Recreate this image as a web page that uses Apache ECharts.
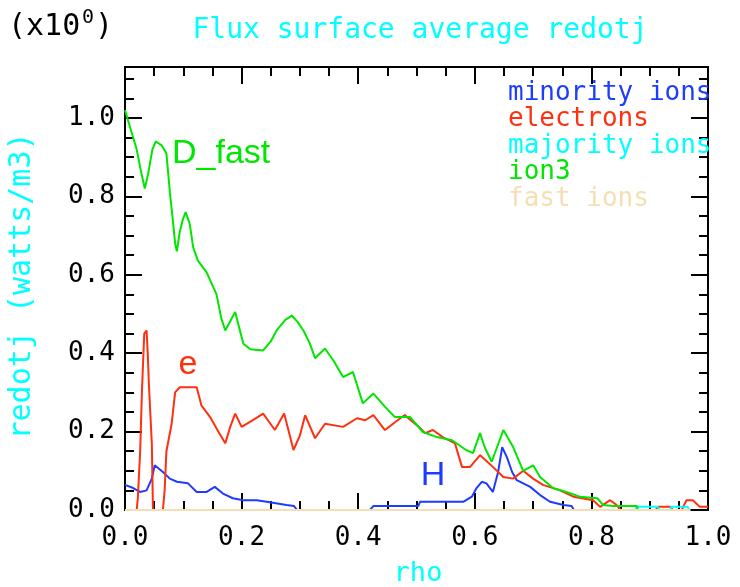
<!DOCTYPE html>
<html>
<head>
<meta charset="utf-8">
<script src="https://cdn.jsdelivr.net/npm/echarts@6/dist/echarts.min.js"></script>
<style>
  html, body { margin: 0; padding: 0; background: #fff; }
  #main { width: 740px; height: 587px; }
</style>
</head>
<body>
<div id="main"></div>
<script>
// rho / value pairs
var minorityIons = [[0,0.064],[0.014,0.056],[0.026,0.046],[0.037,0.05],[0.046,0.08],[0.051,0.114],[0.065,0.097],
  [0.077,0.08],[0.089,0.072],[0.108,0.068],[0.123,0.046],[0.14,0.046],[0.154,0.059],[0.168,0.042],[0.185,0.03],
  [0.203,0.025],[0.226,0.025],[0.243,0.021],[0.277,0.013],[0.29,0.01],[0.295,0],[0.42,0],[0.426,0.01],[0.503,0.01],
  [0.506,0.021],[0.58,0.021],[0.595,0.034],[0.603,0.056],[0.612,0.072],[0.62,0.068],[0.631,0.046],[0.64,0.097],
  [0.647,0.16],[0.655,0.135],[0.664,0.097],[0.672,0.076],[0.695,0.059],[0.712,0.038],[0.729,0.021],[0.752,0.013],
  [0.766,0.01],[0.77,0]];
var electrons = [[0,0],[0.02,0],[0.022,0.03],[0.026,0.15],[0.029,0.30],[0.033,0.45],[0.037,0.458],[0.039,0.40],
  [0.041,0.32],[0.046,0.17],[0.048,0],[0.065,0],[0.068,0.05],[0.071,0.15],[0.08,0.22],[0.086,0.30],[0.094,0.313],
  [0.123,0.313],[0.131,0.267],[0.146,0.237],[0.16,0.2],[0.172,0.17],[0.18,0.21],[0.189,0.246],[0.2,0.212],[0.22,0.23],
  [0.237,0.246],[0.247,0.225],[0.257,0.204],[0.273,0.246],[0.289,0.153],[0.3,0.19],[0.309,0.242],[0.326,0.183],
  [0.343,0.22],[0.374,0.212],[0.398,0.234],[0.412,0.229],[0.426,0.242],[0.446,0.204],[0.472,0.234],[0.48,0.242],
  [0.506,0.209],[0.515,0.196],[0.528,0.204],[0.545,0.186],[0.566,0.17],[0.578,0.11],[0.592,0.11],[0.609,0.14],
  [0.62,0.125],[0.631,0.11],[0.649,0.084],[0.666,0.08],[0.683,0.10],[0.70,0.08],[0.717,0.064],[0.746,0.05],
  [0.769,0.034],[0.803,0.025],[0.815,0.008],[0.832,0.025],[0.843,0.013],[0.85,0],[0.91,0],[0.914,0.008],
  [0.935,0.008],[0.94,0],[0.955,0],[0.963,0.025],[0.974,0.025],[0.986,0.008],[1.0,0.008]];
var majorityIons = [[0,0],[0.875,0],[0.878,0.008],[0.914,0.008],[0.917,0],[0.935,0],[0.937,0.008],[0.965,0.008],[0.968,0]];
var ion3 = [[0,1.02],[0.01,0.97],[0.02,0.92],[0.028,0.86],[0.034,0.82],[0.04,0.86],[0.047,0.92],[0.053,0.94],
  [0.063,0.93],[0.071,0.91],[0.077,0.81],[0.082,0.74],[0.086,0.68],[0.089,0.66],[0.094,0.71],[0.099,0.74],
  [0.104,0.76],[0.111,0.73],[0.117,0.67],[0.125,0.636],[0.14,0.606],[0.157,0.55],[0.165,0.49],[0.172,0.458],
  [0.18,0.48],[0.189,0.505],[0.203,0.424],[0.215,0.41],[0.237,0.407],[0.25,0.43],[0.26,0.458],[0.275,0.485],
  [0.286,0.496],[0.296,0.48],[0.306,0.458],[0.317,0.425],[0.326,0.387],[0.343,0.412],[0.358,0.38],[0.374,0.339],
  [0.391,0.352],[0.408,0.272],[0.426,0.297],[0.445,0.265],[0.463,0.237],[0.489,0.237],[0.511,0.199],[0.535,0.186],
  [0.561,0.178],[0.585,0.153],[0.597,0.145],[0.609,0.196],[0.617,0.16],[0.629,0.123],[0.649,0.204],[0.666,0.16],
  [0.683,0.10],[0.70,0.114],[0.712,0.084],[0.734,0.056],[0.757,0.046],[0.78,0.034],[0.81,0.03],[0.82,0.013],
  [0.837,0.01],[0.878,0.01],[0.88,0]];
var fastIons = [[0,0],[0.97,0]];

var seriesNames = ['minority ions', 'electrons', 'majority ions', 'ion3', 'fast ions'];
var seriesColors = ['#1e3cff', '#ff3010', '#00ffff', '#00e600', '#f5deb3'];
var seriesData = [minorityIons, electrons, majorityIons, ion3, fastIons];

var monoFont = 'DejaVu Sans Mono';
var sansFont = 'Liberation Sans';

var tickStyle = { color: '#000', width: 2 };

function xAx(pos, labels) {
  return {
    type: 'value', position: pos, min: 0, max: 1, interval: 0.2,
    axisLine: { show: true, onZero: false, lineStyle: tickStyle },
    axisTick: { show: true, inside: true, length: 17, lineStyle: tickStyle },
    minorTick: { show: true, splitNumber: 4, length: 9, lineStyle: tickStyle },
    axisLabel: { show: labels, margin: 15, color: '#000', fontFamily: monoFont, fontSize: 26,
      formatter: function (v) { return v.toFixed(1); } },
    splitLine: { show: false }
  };
}
function yAx(pos, step, len, labels) {
  return {
    type: 'value', position: pos, min: 0, max: 1.13, interval: step,
    axisLine: { show: true, onZero: false, lineStyle: tickStyle },
    axisTick: { show: true, inside: true, length: len, lineStyle: tickStyle },
    axisLabel: { show: labels, margin: 10, color: '#000', fontFamily: monoFont, fontSize: 26,
      showMaxLabel: false, formatter: function (v) { return v.toFixed(1); } },
    splitLine: { show: false }
  };
}

var legendTexts = seriesNames.map(function (n, i) {
  return {
    type: 'text', left: 508, top: 80 + 26.5 * i, z: 10,
    style: { text: n, fill: seriesColors[i], font: '26px "' + monoFont + '"' }
  };
});

var chart = echarts.init(document.getElementById('main'));
chart.setOption({
  animation: false,
  backgroundColor: '#fff',
  grid: { left: 125, right: 32, top: 67, bottom: 77 },
  xAxis: [xAx('bottom', true), xAx('top', false)],
  yAxis: [yAx('left', 0.2, 17, true), yAx('left', 0.05, 9, false),
          yAx('right', 0.2, 17, false), yAx('right', 0.05, 9, false)],
  series: seriesData.map(function (d, i) {
    return {
      name: seriesNames[i], type: 'line', data: d, xAxisIndex: 0, yAxisIndex: 0,
      showSymbol: false, symbol: 'none', z: 2 + i,
      lineStyle: { color: seriesColors[i], width: 2 }
    };
  }),
  graphic: legendTexts.concat([
    { type: 'rect', shape: { x: 710, y: 75, width: 30, height: 150 }, style: { fill: '#fff' }, z: 20 },
    { type: 'text', left: 8, top: 12, style: { text: '(x10', fill: '#000', font: '30px "' + monoFont + '"' } },
    { type: 'text', left: 82, top: 8, style: { text: '0', fill: '#000', font: '20px "' + monoFont + '"' } },
    { type: 'text', left: 95, top: 12, style: { text: ')', fill: '#000', font: '30px "' + monoFont + '"' } },
    { type: 'text', x: 420, y: 31, style: { text: 'Flux surface average redotj', fill: '#00ffff',
      font: '28px "' + monoFont + '"', textAlign: 'center', textVerticalAlign: 'middle' } },
    { type: 'text', x: 22, y: 286, rotation: Math.PI / 2, style: { text: 'redotj (watts/m3)', fill: '#00ffff',
      font: '30px "' + monoFont + '"', textAlign: 'center', textVerticalAlign: 'middle' } },
    { type: 'text', x: 418, y: 574, style: { text: 'rho', fill: '#00ffff',
      font: '27px "' + monoFont + '"', textAlign: 'center', textVerticalAlign: 'middle' } },
    { type: 'text', x: 172, y: 154, z: 10, style: { text: 'D_fast', fill: seriesColors[3],
      font: '34px "' + sansFont + '"', textAlign: 'left', textVerticalAlign: 'middle' } },
    { type: 'text', x: 188, y: 365, z: 10, style: { text: 'e', fill: seriesColors[1],
      font: '34px "' + sansFont + '"', textAlign: 'center', textVerticalAlign: 'middle' } },
    { type: 'text', x: 433, y: 476, z: 10, style: { text: 'H', fill: seriesColors[0],
      font: '34px "' + sansFont + '"', textAlign: 'center', textVerticalAlign: 'middle' } }
  ])
});
</script>
</body>
</html>
